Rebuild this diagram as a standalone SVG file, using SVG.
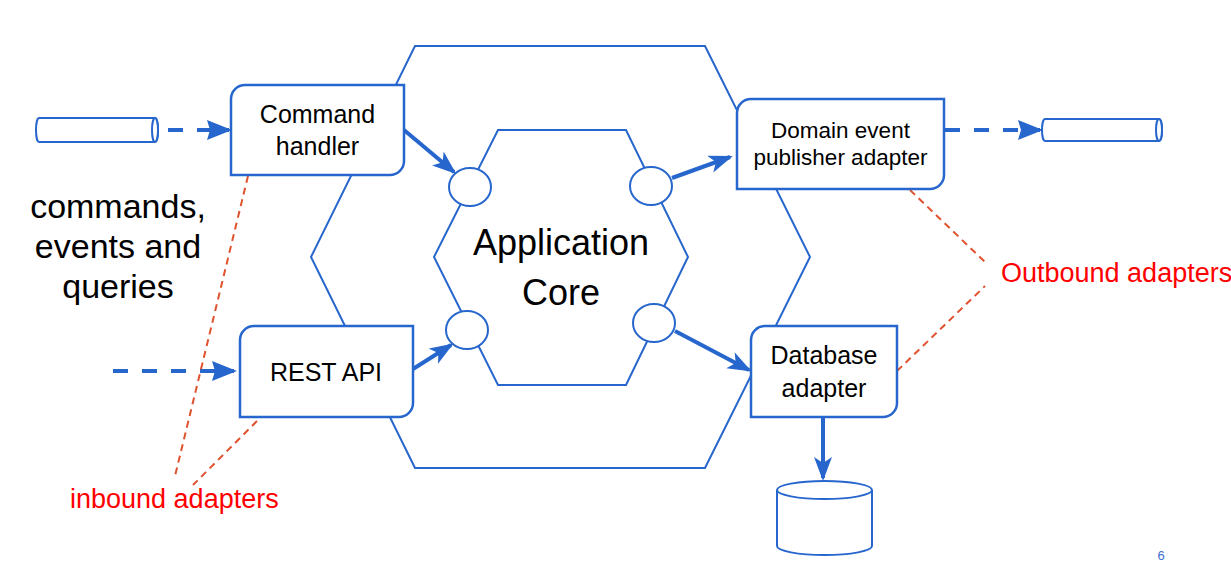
<svg xmlns="http://www.w3.org/2000/svg" width="1231" height="566" viewBox="0 0 1231 566">
<style>
  .hex { fill: none; stroke: #2766cc; stroke-width: 2; }
  .box { fill: #ffffff; stroke: #2766cc; stroke-width: 2.5; }
  .port { fill: #ffffff; stroke: #2766cc; stroke-width: 2; }
  .pipe { fill: #ffffff; stroke: #2766cc; stroke-width: 2; }
  .t { font-family: "Liberation Sans", Arial, sans-serif; fill: #000000; text-anchor: middle; }
  .red { font-family: "Liberation Sans", Arial, sans-serif; fill: #ff0000; font-size: 27px; }
  .solid { stroke: #2766cc; stroke-width: 4; fill: none; marker-end: url(#ah); }
  .dash { stroke: #2766cc; stroke-width: 4; fill: none; stroke-dasharray: 15 14; marker-end: url(#ahd); }
  .note { stroke: #e0522e; stroke-width: 2; fill: none; stroke-dasharray: 7 5; }
</style>
<defs>
  <marker id="ah" markerUnits="userSpaceOnUse" markerWidth="26" markerHeight="20" refX="21" refY="9" orient="auto">
    <path d="M0,0 L24,9 L0,18 L6,9 Z" fill="#2766cc"/>
  </marker>
  <marker id="ahd" markerUnits="userSpaceOnUse" markerWidth="28" markerHeight="22" refX="22" refY="10" orient="auto">
    <path d="M0,0 L25,10 L0,20 L3,10 Z" fill="#2766cc"/>
  </marker>
</defs>

<g id="outer-hexagon">
  <polygon class="hex" points="415,46 705,46 810,257 705,468 415,468 311,257"/>
</g>

<g id="application-core">
  <polygon class="hex" points="498,130 626,130 688,257 626,385 498,385 434,257"/>
  <text class="t" x="561" y="255" font-size="36">Application</text>
  <text class="t" x="561" y="305" font-size="36">Core</text>
</g>

<g id="ports">
  <ellipse class="port" cx="470" cy="187" rx="21" ry="19"/>
  <ellipse class="port" cx="651" cy="186" rx="21" ry="19"/>
  <ellipse class="port" cx="467" cy="330" rx="21" ry="19"/>
  <ellipse class="port" cx="654" cy="323" rx="21" ry="19"/>
</g>

<g id="connectors">
  <line class="dash" x1="168" y1="130" x2="229" y2="130"/>
  <line class="dash" x1="113" y1="371" x2="234" y2="371"/>
  <line class="dash" x1="945" y1="130" x2="1040" y2="130"/>
  <line class="solid" x1="404" y1="130" x2="454" y2="172"/>
  <line class="solid" x1="413" y1="369" x2="451" y2="345"/>
  <line class="solid" x1="672" y1="178" x2="730" y2="157"/>
  <line class="solid" x1="675" y1="331" x2="749" y2="370"/>
  <line class="solid" x1="823" y1="417" x2="823" y2="478"/>
  <line class="note" x1="248" y1="176" x2="175" y2="476"/>
  <line class="note" x1="257" y1="421" x2="193" y2="485"/>
  <line class="note" x1="910" y1="190" x2="985" y2="262"/>
  <line class="note" x1="897" y1="371" x2="985" y2="286"/>
</g>

<g id="command-handler">
  <path class="box" d="M231,99 A14,14 0 0 1 245,85 L404,85 L404,161 A14,14 0 0 1 390,175 L231,175 Z"/>
  <text class="t" x="317.5" y="123" font-size="25">Command</text>
  <text class="t" x="317.5" y="155" font-size="25">handler</text>
</g>

<g id="rest-api">
  <path class="box" d="M240,340 A14,14 0 0 1 254,326 L413,326 L413,403 A14,14 0 0 1 399,417 L240,417 Z"/>
  <text class="t" x="326" y="381" font-size="25">REST API</text>
</g>

<g id="domain-event-publisher">
  <path class="box" d="M737,113 A14,14 0 0 1 751,99 L944,99 L944,175 A14,14 0 0 1 930,189 L737,189 Z"/>
  <text class="t" x="840.5" y="138" font-size="22.5">Domain event</text>
  <text class="t" x="840.5" y="165" font-size="22.5">publisher adapter</text>
</g>

<g id="database-adapter">
  <path class="box" d="M751,340 A14,14 0 0 1 765,326 L897,326 L897,403 A14,14 0 0 1 883,417 L751,417 Z"/>
  <text class="t" x="824" y="364" font-size="25">Database</text>
  <text class="t" x="824" y="397" font-size="25">adapter</text>
</g>

<g id="input-channel">
  <path class="pipe" d="M39,118 L155,118 A3,12 0 0 1 155,142 L39,142 A3,12 0 0 1 39,118 Z"/>
  <ellipse class="pipe" cx="155" cy="130" rx="3" ry="12"/>
</g>

<g id="output-channel">
  <path class="pipe" d="M1045,119 L1159,119 A3,11 0 0 1 1159,141 L1045,141 A3,11 0 0 1 1045,119 Z"/>
  <ellipse class="pipe" cx="1159" cy="130" rx="3" ry="11"/>
</g>

<g id="database">
  <path class="pipe" d="M777,490 L777,546 A47.5,9 0 0 0 872,546 L872,490"/>
  <ellipse class="pipe" cx="824.5" cy="490" rx="47.5" ry="9"/>
</g>

<g id="labels">
  <text class="t" x="118" y="218" font-size="34">commands,</text>
  <text class="t" x="118" y="258" font-size="34">events and</text>
  <text class="t" x="118" y="298" font-size="34">queries</text>
  <text class="red" x="70" y="508">inbound adapters</text>
  <text class="red" x="1001" y="282">Outbound adapters</text>
  <text x="1161" y="560" font-family="Liberation Sans, Arial, sans-serif" font-size="13" fill="#3d6fcf" text-anchor="middle">6</text>
</g>
</svg>
